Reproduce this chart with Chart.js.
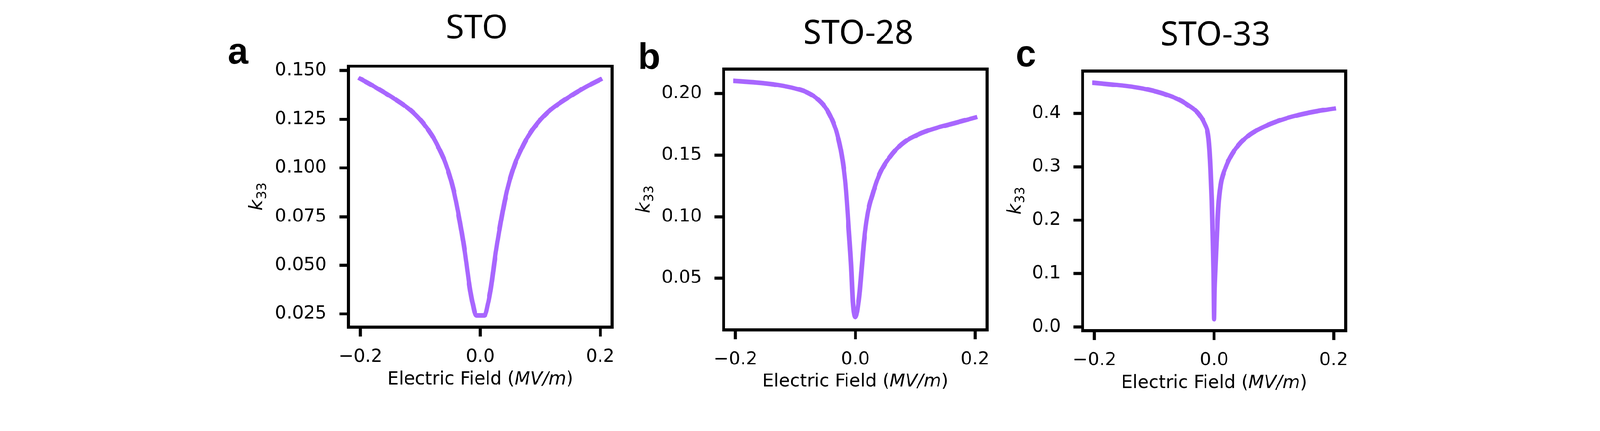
<!DOCTYPE html>
<html>
<head>
<meta charset="utf-8">
<script src="https://cdn.jsdelivr.net/npm/chart.js@4.4.1/dist/chart.umd.min.js"></script>
<style>
  html, body { margin: 0; padding: 0; background: #fff; overflow: hidden; }
  #figure { width: 4252px; height: 1104px; position: absolute; left: 0; top: 0; transform-origin: 0 0; }
  canvas { position: absolute; top: 0; }
</style>
</head>
<body>
<div id="figure">
  <canvas id="panelA"></canvas>
  <canvas id="panelB"></canvas>
  <canvas id="panelC"></canvas>
</div>
<script>
// k33 vs electric field (MV/m)
var stoField = [-0.2, -0.174, -0.145, -0.116, -0.096, -0.081, -0.07, -0.058, -0.0455, -0.037, -0.026, -0.0175, -0.0125, -0.007, 0,
                0.007, 0.0125, 0.0175, 0.026, 0.037, 0.0455, 0.058, 0.07, 0.081, 0.096, 0.116, 0.145, 0.174, 0.2];
var stoK33 = [0.1458, 0.1413, 0.1359, 0.1296, 0.1233, 0.1169, 0.1107, 0.1024, 0.0897, 0.0771, 0.0572, 0.0382, 0.0300, 0.0242, 0.0242,
              0.0242, 0.0300, 0.0382, 0.0572, 0.0771, 0.0897, 0.1024, 0.1107, 0.1169, 0.1233, 0.1296, 0.1359, 0.1413, 0.1454];

var sto28Field = [-0.2, -0.1655, -0.137, -0.108, -0.085, -0.065, -0.051, -0.0395, -0.031, -0.0225, -0.0165, -0.011, -0.007, -0.004, 0,
                  0.0065, 0.011, 0.0145, 0.0205, 0.029, 0.0405, 0.0575, 0.0775, 0.106, 0.135, 0.1635, 0.2];
var sto28K33 = [0.2102, 0.2090, 0.2075, 0.2050, 0.2019, 0.1963, 0.1894, 0.1795, 0.1683, 0.1496, 0.1271, 0.0898, 0.0600, 0.0300, 0.0185,
                0.0350, 0.0600, 0.0800, 0.1023, 0.1184, 0.1346, 0.1484, 0.1589, 0.1670, 0.1720, 0.1757, 0.1805];

var sto33Field = [-0.2, -0.168, -0.139, -0.11, -0.082, -0.059, -0.042, -0.0275, -0.016, -0.0103, -0.008, -0.006, -0.004, -0.0023, -0.001, 0,
                  0.001, 0.002, 0.004, 0.007, 0.011, 0.018, 0.027, 0.041, 0.061, 0.09, 0.118, 0.147, 0.1755, 0.2];
var sto33K33 = [0.4570, 0.4535, 0.4500, 0.4443, 0.4357, 0.4256, 0.4141, 0.4012, 0.3810, 0.3610, 0.3351, 0.2949, 0.2375, 0.1656, 0.1000, 0.0150,
                0.0700, 0.1000, 0.1512, 0.2230, 0.2662, 0.2949, 0.3179, 0.3409, 0.3610, 0.3782, 0.3897, 0.3983, 0.4046, 0.4087];

var fieldTicks = [-0.2, 0.0, 0.2];
var stoTicks = [0.025, 0.050, 0.075, 0.100, 0.125, 0.150];
var sto28Ticks = [0.05, 0.10, 0.15, 0.20];
var sto33Ticks = [0.0, 0.1, 0.2, 0.3, 0.4];
var panelTitles = ['STO', 'STO-28', 'STO-33'];
var panelLetters = ['a', 'b', 'c'];

var lineColor = '#a866fe';
var tickFont = { family: 'DejaVu Sans', size: 48 };

// fit the 4252x1104 figure into whatever viewport we get
var fig = document.getElementById('figure');
var s = Math.min(window.innerWidth / 4252, window.innerHeight / 1104);
fig.style.transform = 'scale(' + s + ')';

function fmt(v, d) {
    return (v < -1e-9 ? '\u2212' : '') + Math.abs(v).toFixed(d);
}

// frame, titles, panel letter and axis titles (mixed italic text)
var decorPlugin = {
    id: 'decor',
    afterDraw: function(chart, args, o) {
        var ctx = chart.ctx, a = chart.chartArea;
        ctx.save();
        ctx.strokeStyle = '#000';
        ctx.lineWidth = 8;
        ctx.strokeRect(a.left, a.top, a.right - a.left, a.bottom - a.top);

        ctx.fillStyle = '#000';
        ctx.textBaseline = 'alphabetic';
        ctx.textAlign = 'center';
        ctx.font = '88px "Noto Sans"';
        ctx.fillText(o.title, o.titleX, o.titleY);

        ctx.textAlign = 'left';
        ctx.font = 'bold 98px "Liberation Sans"';
        ctx.fillText(o.letter, o.letterX, o.letterY);

        // x axis title
        var parts = [['Electric Field (', '48px "DejaVu Sans"'], ['MV/m', 'italic 48px "DejaVu Sans"'], [')', '48px "DejaVu Sans"']];
        var total = 0;
        parts.forEach(function(p) { ctx.font = p[1]; p.push(ctx.measureText(p[0]).width); total += p[2]; });
        var x = (a.left + a.right) / 2 - total / 2;
        ctx.textBaseline = 'middle';
        parts.forEach(function(p) { ctx.font = p[1]; ctx.fillText(p[0], x, o.xTitleY); x += p[2]; });

        // y axis title k33
        ctx.translate(o.yTitleX, (a.top + a.bottom) / 2);
        ctx.rotate(-Math.PI / 2);
        ctx.font = 'italic 50px "DejaVu Sans"';
        var wk = ctx.measureText('k').width;
        ctx.font = '35px "DejaVu Sans"';
        var ws = ctx.measureText('33').width;
        var sx = -(wk + ws) / 2;
        ctx.font = 'italic 50px "DejaVu Sans"';
        ctx.fillText('k', sx, -4);
        ctx.font = '35px "DejaVu Sans"';
        ctx.fillText('33', sx + wk + 1, 10);
        ctx.restore();
    }
};

function drawPanel(id, xs, ys, yTicks, yDec, yMin, yMax, geo, idx) {
    var canvas = document.getElementById(id);
    var left = geo.L - 360;
    var w = geo.R - geo.L + 360 + 90;
    canvas.width = w;
    canvas.height = 1104;
    canvas.style.left = left + 'px';
    canvas.style.width = w + 'px';
    canvas.style.height = '1104px';

    new Chart(canvas.getContext('2d'), {
        type: 'line',
        data: {
            datasets: [{
                data: xs.map(function(x, i) { return { x: x, y: ys[i] }; }),
                borderColor: lineColor,
                borderWidth: 12,
                borderCapStyle: 'square',
                borderJoinStyle: 'round',
                pointRadius: 0,
                fill: false,
                cubicInterpolationMode: 'monotone'
            }]
        },
        options: {
            responsive: false,
            animation: false,
            layout: { padding: { left: 0, top: geo.T, right: 90, bottom: 0 } },
            plugins: {
                legend: { display: false },
                tooltip: { enabled: false },
                decor: {
                    title: panelTitles[idx], titleX: geo.titleX - left, titleY: geo.titleY,
                    letter: panelLetters[idx], letterX: geo.letterX - left, letterY: geo.letterY,
                    xTitleY: geo.xTitleY, yTitleX: geo.yTitleX - left
                }
            },
            scales: {
                x: {
                    type: 'linear',
                    min: -0.22,
                    max: 0.22,
                    afterBuildTicks: function(axis) { axis.ticks = fieldTicks.map(function(v) { return { value: v }; }); },
                    afterFit: function(axis) { axis.height = 1104 - geo.B; },
                    ticks: { font: tickFont, color: '#000', padding: 26, maxRotation: 0,
                             callback: function(v) { return fmt(v, 1); } },
                    grid: { drawOnChartArea: false, drawTicks: true, tickLength: 25, tickWidth: 8, tickColor: '#000' },
                    border: { display: false }
                },
                y: {
                    min: yMin,
                    max: yMax,
                    afterBuildTicks: function(axis) { axis.ticks = yTicks.map(function(v) { return { value: v }; }); },
                    afterFit: function(axis) { axis.width = 360; },
                    ticks: { font: tickFont, color: '#000', padding: 34,
                             callback: function(v) { return fmt(v, yDec); } },
                    grid: { drawOnChartArea: false, drawTicks: true, tickLength: 24, tickWidth: 8, tickColor: '#000' },
                    border: { display: false }
                }
            }
        },
        plugins: [decorPlugin]
    });
}

drawPanel('panelA', stoField, stoK33, stoTicks, 3, 0.0182, 0.1523,
    { L: 926, T: 176, R: 1627, B: 870, titleX: 1267, titleY: 102, letterX: 605, letterY: 169, yTitleX: 688, xTitleY: 1010 }, 0);
drawPanel('panelB', sto28Field, sto28K33, sto28Ticks, 2, 0.0081, 0.2198,
    { L: 1923, T: 184, R: 2623, B: 877, titleX: 2281, titleY: 116, letterX: 1695, letterY: 183, yTitleX: 1717, xTitleY: 1016 }, 1);
drawPanel('panelC', sto33Field, sto33K33, sto33Ticks, 1, -0.0065, 0.479,
    { L: 2877, T: 189, R: 3576, B: 879, titleX: 3230, titleY: 120, letterX: 2699, letterY: 176, yTitleX: 2703, xTitleY: 1020 }, 2);
</script>
</body>
</html>
